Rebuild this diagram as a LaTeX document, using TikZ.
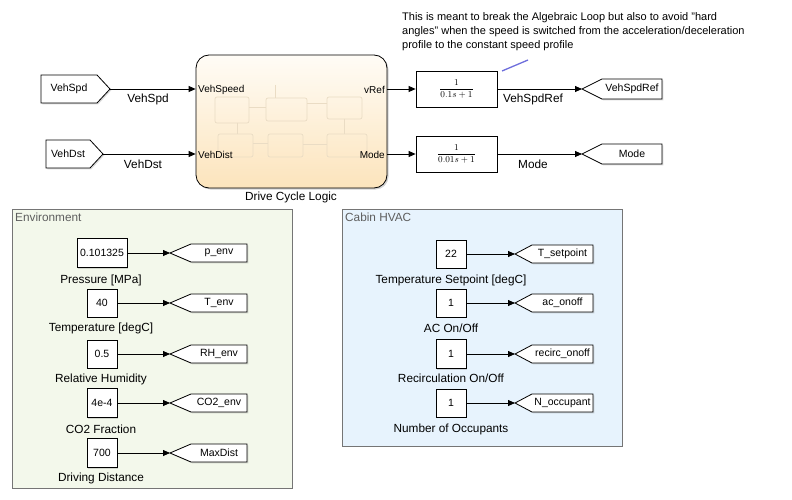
\documentclass[tikz,border=0pt]{standalone}
\usepackage{fontspec}
\setmainfont{Liberation Sans}
\usetikzlibrary{arrows.meta,shadows}
\definecolor{envfill}{HTML}{F3F8EB}
\definecolor{cabfill}{HTML}{E7F3FD}
\definecolor{areaedge}{HTML}{757575}
\definecolor{areatitle}{HTML}{5E5E5E}
\definecolor{dctop}{HTML}{FFFCF6}
\definecolor{dcbot}{HTML}{FCE4BC}
\definecolor{iconcol}{HTML}{EADCC4}
\definecolor{annline}{HTML}{6E6EDC}
\tikzset{
  x=1pt, y=-1pt,
  shade/.style={drop shadow={shadow xshift=1.3pt, shadow yshift=-1.3pt, opacity=0.28}},
  blk/.style={draw=black, fill=white, line width=0.8pt, inner sep=0pt, shade,
              font=\fontsize{10.5}{12}\selectfont},
  tfblk/.style={blk, minimum width=81pt, minimum height=36pt, font=\fontsize{9.3}{10}\selectfont},
  gotoedge/.style={draw=black, fill=white, line width=0.8pt, shade},
  gototxt/.style={inner sep=0pt, font=\fontsize{10.5}{12}\selectfont},
  lbl/.style={inner sep=0pt, font=\fontsize{11.8}{13}\selectfont},
  port/.style={inner sep=0pt, font=\fontsize{10}{12}\selectfont},
  area/.style={draw=areaedge, line width=0.8pt},
  areattl/.style={inner sep=0pt, anchor=west, text=areatitle, font=\fontsize{11.8}{13}\selectfont},
  sig/.style={line width=0.8pt, -{Triangle[length=7pt,width=6pt]}},
  iconbox/.style={draw=iconcol, line width=0.7pt, rounded corners=2pt},
  iconline/.style={draw=iconcol, line width=0.7pt},
  dcblk/.style={draw=black, line width=0.8pt, rounded corners=13pt, top color=dctop, bottom color=dcbot,
                drop shadow={shadow xshift=1.5pt, shadow yshift=-1.5pt, opacity=0.35}},
}
% goto block pointing left: name, tip x, rect left, rect right, y, height, text
\newcommand{\gotoL}[7]{%
  \draw[gotoedge] (#2,#5) -- (#3,{#5-#6/2}) -- (#4,{#5-#6/2}) -- (#4,{#5+#6/2}) -- (#3,{#5+#6/2}) -- cycle;
  \node[gototxt] (#1) at ({(#3+#4)/2},#5) {#7};
  \coordinate (#1-tip) at (#2,#5);}
% from block pointing right: name, rect left, rect right, tip x, y, height, text
\newcommand{\fromR}[7]{%
  \draw[gotoedge] (#4,#5) -- (#3,{#5-#6/2}) -- (#2,{#5-#6/2}) -- (#2,{#5+#6/2}) -- (#3,{#5+#6/2}) -- cycle;
  \node[gototxt] (#1) at ({(#2+#3)/2},#5) {#7};
  \coordinate (#1-tip) at (#4,#5);}
\begin{document}
\begin{tikzpicture}
\useasboundingbox (0,0) rectangle (792,500);
\fill[white] (0,0) rectangle (792,500);

% ---------- areas
\draw[area, fill=envfill] (12,209) rectangle (292,488);
\node[areattl] (envttl) at (15,217) {Environment};
\draw[area, fill=cabfill] (342,209) rectangle (622,446);
\node[areattl] (cabttl) at (345,217) {Cabin HVAC};

% ---------- top: from blocks
\fromR{fspd}{41}{97}{110}{89}{28}{VehSpd}
\fromR{fdst}{46}{90}{103}{154}{28}{VehDst}

% ---------- drive cycle logic
\node[dcblk, minimum width=191pt, minimum height=133pt] (dc) at (291.5,121.5) {};
\draw[iconbox] (215,97) rectangle (249,123);
\draw[iconbox] (266,98) rectangle (307,121);
\draw[iconbox] (327,97) rectangle (362,119);
\draw[iconbox] (218,134) rectangle (253,157);
\draw[iconbox] (268,134) rectangle (303,157);
\draw[iconbox] (327,134) rectangle (367,157);
\draw[iconline] (249,107) -- (266,107);
\draw[iconline] (307,103) -- (327,103);
\draw[iconline] (275,85) -- (275,98);
\draw[iconline] (237,123) -- (237,134);
\draw[iconline] (344,119) -- (344,134);
\draw[iconline] (253,143) -- (268,143);
\draw[iconline] (303,144) -- (327,144);
\node[port, anchor=west] (pin1) at (198,90) {VehSpeed};
\node[port, anchor=west] (pin2) at (198,155) {VehDist};
\node[port, anchor=east] (pout1) at (385,90) {vRef};
\node[port, anchor=east] (pout2) at (385,155) {Mode};
\node[lbl] (dclbl) at (291,197) {Drive Cycle Logic};

% ---------- transfer functions
\node[tfblk] (tf1) at (456.5,89) {$\displaystyle\frac{1}{0.1s+1}$};
\node[tfblk] (tf2) at (456.5,154) {$\displaystyle\frac{1}{0.01s+1}$};

% ---------- top gotos
\gotoL{gref}{582}{602}{662}{89}{20}{VehSpdRef}
\gotoL{gmode}{582}{602}{662}{154}{20}{Mode}

% ---------- top connectors
\draw[sig] (fspd-tip) -- (dc.west |- fspd-tip);
\node[lbl] (lspd) at (148,99) {VehSpd};
\draw[sig] (fdst-tip) -- (dc.west |- fdst-tip);
\node[lbl] (ldst) at (143,164) {VehDst};
\draw[sig] (dc.east |- tf1) -- (tf1.west);
\draw[sig] (dc.east |- tf2) -- (tf2.west);
\draw[sig] (tf1) -- (gref-tip);
\node[lbl] (lref) at (533,99) {VehSpdRef};
\draw[sig] (tf2) -- (gmode-tip);
\node[lbl] (lmode) at (533,164) {Mode};

% ---------- annotation
\node[inner sep=0pt, anchor=north west, align=left, font=\fontsize{11}{14}\selectfont] (note) at (402,12)
  {This is meant to break the Algebraic Loop but also to avoid "hard\\
   angles" when the speed is switched from the acceleration/deceleration\\
   profile to the constant speed profile};
\coordinate (noteend) at (528,60);
\coordinate (noteanchor) at (502,71);
\draw[annline, line width=1.3pt] (noteanchor) -- (noteend);

% ---------- environment constants
\node[blk, minimum width=50pt, minimum height=29pt] (c1) at (102,253) {0.101325};
\node[blk, minimum width=30pt, minimum height=28pt] (c2) at (102,303) {40};
\node[blk, minimum width=30pt, minimum height=28pt] (c3) at (102,354) {0.5};
\node[blk, minimum width=30pt, minimum height=29pt] (c4) at (102,403) {4e-4};
\node[blk, minimum width=30pt, minimum height=29pt] (c5) at (102,453) {700};
\node[lbl] (l1) at (101,280) {Pressure [MPa]};
\node[lbl] (l2) at (101,328) {Temperature [degC]};
\node[lbl] (l3) at (101,379) {Relative Humidity};
\node[lbl] (l4) at (101,429) {CO2 Fraction};
\node[lbl] (l5) at (101,478) {Driving Distance};
\gotoL{g1}{170}{191}{247}{253}{18}{p\_env}
\gotoL{g2}{170}{191}{247}{303}{18}{T\_env}
\gotoL{g3}{170}{191}{247}{354}{18}{RH\_env}
\gotoL{g4}{170}{191}{247}{403}{18}{CO2\_env}
\gotoL{g5}{170}{191}{247}{453}{18}{MaxDist}
\draw[sig] (c1) -- (g1-tip);
\draw[sig] (c2) -- (g2-tip);
\draw[sig] (c3) -- (g3-tip);
\draw[sig] (c4) -- (g4-tip);
\draw[sig] (c5) -- (g5-tip);

% ---------- cabin constants
\node[blk, minimum width=30pt, minimum height=28pt] (h1) at (451,254) {22};
\node[blk, minimum width=30pt, minimum height=28pt] (h2) at (451,303) {1};
\node[blk, minimum width=30pt, minimum height=29pt] (h3) at (451,354) {1};
\node[blk, minimum width=30pt, minimum height=28pt] (h4) at (451,403) {1};
\node[lbl] (m1) at (451,280) {Temperature Setpoint [degC]};
\node[lbl] (m2) at (451,328) {AC On/Off};
\node[lbl] (m3) at (451,378) {Recirculation On/Off};
\node[lbl] (m4) at (451,429) {Number of Occupants};
\gotoL{k1}{515}{532}{593}{254}{18}{T\_setpoint}
\gotoL{k2}{515}{532}{593}{303}{18}{ac\_onoff}
\gotoL{k3}{515}{532}{593}{354}{18}{recirc\_onoff}
\gotoL{k4}{515}{532}{593}{403}{18}{N\_occupant}
\draw[sig] (h1) -- (k1-tip);
\draw[sig] (h2) -- (k2-tip);
\draw[sig] (h3) -- (k3-tip);
\draw[sig] (h4) -- (k4-tip);
\end{tikzpicture}
\end{document}
